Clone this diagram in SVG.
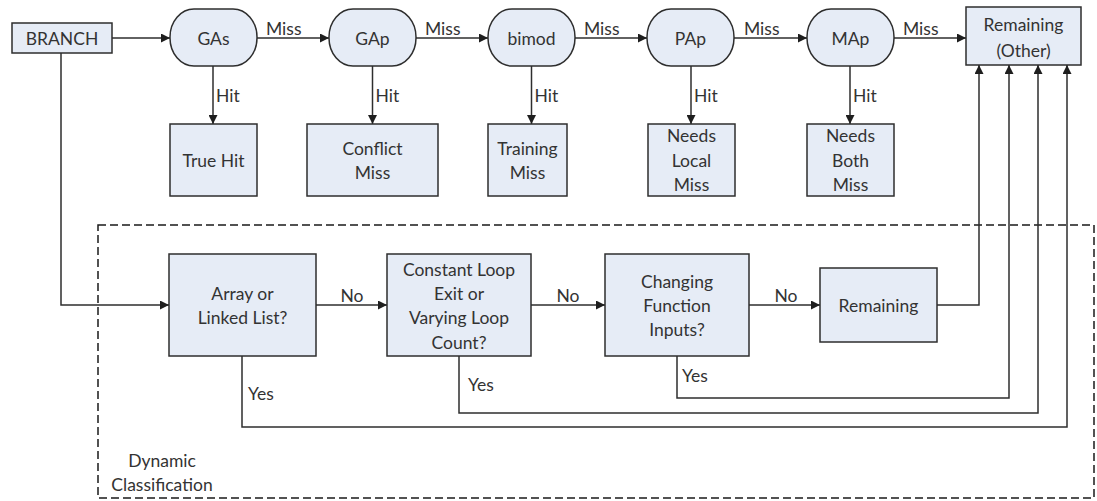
<svg xmlns="http://www.w3.org/2000/svg" width="1097" height="501" viewBox="0 0 1097 501">
  <style>
    .box { fill: #e6ecf6; stroke: #2e2e2e; stroke-width: 1.5; }
    .lbl { font-family: Lato, "Liberation Sans", sans-serif; font-size: 17.5px; fill: #333; dominant-baseline: central; }
    .mid { text-anchor: middle; }
    .edge { fill: none; stroke: #2e2e2e; stroke-width: 1.5; }
    .arrow { marker-end: url(#head); }
    .frame { fill: none; stroke: #1a1a1a; stroke-width: 1.5; stroke-dasharray: 8 4; }
  </style>
  <defs>
    <marker id="head" viewBox="0 0 10 10" refX="10" refY="5" markerWidth="10" markerHeight="9" markerUnits="userSpaceOnUse" orient="auto">
      <path d="M0,0 L10,5 L0,10 z" fill="#1e1e1e"/>
    </marker>
  </defs>

  <rect width="1097" height="501" fill="#ffffff"/>

  <!-- dashed frame around the dynamic classification stage -->
  <g id="dynamic-classification">
    <rect class="frame" x="98" y="225" width="996" height="273"/>
    <text class="lbl mid" x="162" y="460">Dynamic</text>
    <text class="lbl mid" x="162" y="484">Classification</text>
  </g>

  <!-- connectors -->
  <g id="connectors">
    <!-- predictor chain -->
    <path class="edge arrow" d="M112,38 H170"/>
    <path class="edge arrow" d="M257,38 H329"/>
    <path class="edge arrow" d="M416,38 H488"/>
    <path class="edge arrow" d="M575,38 H647"/>
    <path class="edge arrow" d="M734,38 H807"/>
    <path class="edge arrow" d="M894,38 H966"/>
    <text class="lbl" x="266" y="28">Miss</text>
    <text class="lbl" x="425" y="28">Miss</text>
    <text class="lbl" x="584" y="28">Miss</text>
    <text class="lbl" x="744" y="28">Miss</text>
    <text class="lbl" x="903" y="28">Miss</text>

    <!-- hits -->
    <path class="edge arrow" d="M213,66 V124"/>
    <path class="edge arrow" d="M372.5,66 V124"/>
    <path class="edge arrow" d="M531.5,66 V124"/>
    <path class="edge arrow" d="M691,66 V124"/>
    <path class="edge arrow" d="M850,66 V124"/>
    <text class="lbl" x="216" y="95">Hit</text>
    <text class="lbl" x="375.5" y="95">Hit</text>
    <text class="lbl" x="534.5" y="95">Hit</text>
    <text class="lbl" x="694" y="95">Hit</text>
    <text class="lbl" x="853" y="95">Hit</text>

    <!-- into the dynamic stage -->
    <path class="edge arrow" d="M61,53 V305 H169"/>
    <path class="edge arrow" d="M316,305 H387"/>
    <path class="edge arrow" d="M531,305 H605"/>
    <path class="edge arrow" d="M749,305 H820"/>
    <text class="lbl mid" x="352" y="295">No</text>
    <text class="lbl mid" x="568" y="295">No</text>
    <text class="lbl mid" x="786" y="295">No</text>

    <!-- back up to Remaining (Other) -->
    <path class="edge arrow" d="M937,305 H979 V65"/>
    <path class="edge arrow" d="M677,356 V398 H1009 V65"/>
    <path class="edge arrow" d="M459,356 V413 H1038 V65"/>
    <path class="edge arrow" d="M242,356 V427 H1067 V65"/>
    <text class="lbl" x="248" y="393">Yes</text>
    <text class="lbl" x="468" y="384">Yes</text>
    <text class="lbl" x="682" y="375">Yes</text>
  </g>

  <!-- source -->
  <g id="branch">
    <rect class="box" x="12" y="23" width="100" height="30"/>
    <text class="lbl mid" x="62" y="38">BRANCH</text>
  </g>

  <!-- predictors -->
  <g id="gas">
    <rect class="box" x="170" y="9" width="87" height="57" rx="24" ry="28"/>
    <text class="lbl mid" x="213.5" y="38">GAs</text>
  </g>
  <g id="gap">
    <rect class="box" x="329" y="9" width="87" height="57" rx="24" ry="28"/>
    <text class="lbl mid" x="372.5" y="38">GAp</text>
  </g>
  <g id="bimod">
    <rect class="box" x="488" y="9" width="87" height="57" rx="24" ry="28"/>
    <text class="lbl mid" x="531.5" y="38">bimod</text>
  </g>
  <g id="pap">
    <rect class="box" x="647" y="9" width="87" height="57" rx="24" ry="28"/>
    <text class="lbl mid" x="690.5" y="38">PAp</text>
  </g>
  <g id="map">
    <rect class="box" x="807" y="9" width="87" height="57" rx="24" ry="28"/>
    <text class="lbl mid" x="850.5" y="38">MAp</text>
  </g>
  <g id="remaining-other">
    <rect class="box" x="966" y="7" width="115" height="58"/>
    <text class="lbl mid" x="1023.5" y="24">Remaining</text>
    <text class="lbl mid" x="1023.5" y="50">(Other)</text>
  </g>

  <!-- outcomes -->
  <g id="true-hit">
    <rect class="box" x="170" y="124" width="87" height="72"/>
    <text class="lbl mid" x="213.5" y="160">True Hit</text>
  </g>
  <g id="conflict-miss">
    <rect class="box" x="307" y="124" width="131" height="72"/>
    <text class="lbl mid" x="372.5" y="148">Conflict</text>
    <text class="lbl mid" x="372.5" y="172">Miss</text>
  </g>
  <g id="training-miss">
    <rect class="box" x="488" y="124" width="79" height="72"/>
    <text class="lbl mid" x="527.5" y="148">Training</text>
    <text class="lbl mid" x="527.5" y="172">Miss</text>
  </g>
  <g id="needs-local-miss">
    <rect class="box" x="648" y="124" width="87" height="72"/>
    <text class="lbl mid" x="691.5" y="135">Needs</text>
    <text class="lbl mid" x="691.5" y="160">Local</text>
    <text class="lbl mid" x="691.5" y="184">Miss</text>
  </g>
  <g id="needs-both-miss">
    <rect class="box" x="807" y="124" width="87" height="72"/>
    <text class="lbl mid" x="850.5" y="135">Needs</text>
    <text class="lbl mid" x="850.5" y="160">Both</text>
    <text class="lbl mid" x="850.5" y="184">Miss</text>
  </g>

  <!-- dynamic classification steps -->
  <g id="array-or-linked-list">
    <rect class="box" x="169" y="254" width="147" height="102"/>
    <text class="lbl mid" x="242.5" y="293">Array or</text>
    <text class="lbl mid" x="242.5" y="317">Linked List?</text>
  </g>
  <g id="loop-exit-or-count">
    <rect class="box" x="387" y="254" width="144" height="102"/>
    <text class="lbl mid" x="459" y="269">Constant Loop</text>
    <text class="lbl mid" x="459" y="293">Exit or</text>
    <text class="lbl mid" x="459" y="317">Varying Loop</text>
    <text class="lbl mid" x="459" y="342">Count?</text>
  </g>
  <g id="changing-function-inputs">
    <rect class="box" x="605" y="254" width="144" height="102"/>
    <text class="lbl mid" x="677" y="281">Changing</text>
    <text class="lbl mid" x="677" y="305">Function</text>
    <text class="lbl mid" x="677" y="329">Inputs?</text>
  </g>
  <g id="remaining">
    <rect class="box" x="820" y="268" width="117" height="74"/>
    <text class="lbl mid" x="878.5" y="305">Remaining</text>
  </g>
</svg>
